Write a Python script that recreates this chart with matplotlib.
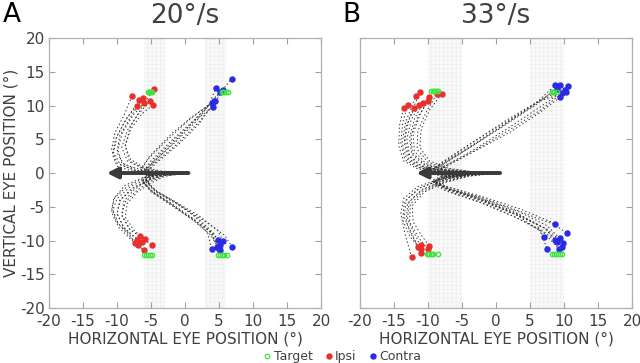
import matplotlib
matplotlib.use("Agg")
import matplotlib.pyplot as plt
from matplotlib.lines import Line2D

# ---------------- data ----------------
TITLES = ["20°/s", "33°/s"]
PANEL_LABELS = ["A", "B"]
TICKS = [-20, -15, -10, -5, 0, 5, 10, 15, 20]
BANDS_A = [(-6, -3), (3, 6)]
BANDS_B = [(-10, -5), (5, 10)]
ARROW_A = [(0.5, 0.0), (-11.5, 0.0)]
ARROW_B = [(0.6, 0.0), (-11.7, 0.0)]

# Panel A trajectories (eye position waypoints; last point = saccade end)
A_IPSI_UP = [
    [(0.3, 0.2), (-4, 0.1), (-7.5, 0.4), (-10, 1.5), (-10.8, 3.5), (-10.3, 6), (-9, 8.5), (-7.8, 11.4)],
    [(0.4, -0.1), (-4, 0), (-7, 0.3), (-9.5, 1.2), (-10.5, 3), (-10, 5.5), (-8.5, 8.2), (-6.7, 10.8)],
    [(0.2, 0.1), (-4, 0.2), (-6.5, 0.5), (-9, 1.3), (-10, 3), (-9.6, 5.5), (-8, 8.3), (-6.2, 11.1)],
    [(0.5, 0), (-4.5, 0), (-7.5, 0.2), (-10, 1), (-10.7, 2.8), (-10.2, 5), (-8.8, 7.8), (-7.1, 9.9)],
    [(0.3, -0.2), (-4, 0.1), (-7, 0.4), (-9.3, 1.5), (-9.9, 3.5), (-9.2, 6), (-7.6, 8.6), (-6.1, 10.3)],
    [(0.1, 0.1), (-3.5, 0.2), (-6, 0.6), (-8.5, 1.8), (-9.3, 3.8), (-8.5, 6.3), (-6.8, 8.8), (-5.2, 10.6)],
    [(0.4, 0.1), (-3.5, 0.3), (-6, 0.8), (-8, 2), (-8.8, 4), (-8, 6.5), (-6.3, 8.8), (-4.7, 10.1)],
    [(0.2, 0), (-3.5, 0.2), (-6, 0.6), (-8.2, 1.8), (-8.8, 4), (-8, 7), (-6.3, 9.8), (-4.6, 12.4)],
]
A_CONTRA_UP = [
    [(0.3, 0), (-3, -0.1), (-5.5, -0.4), (-6.3, 0), (-5, 1.8), (-2, 4.8), (1.5, 8), (4, 10.5), (5.5, 12.3), (6.9, 14.0)],
    [(0.4, 0.1), (-3, 0), (-5.2, -0.2), (-5.8, 0.4), (-4.5, 1.8), (-1.5, 4.5), (1.5, 7.5), (3.5, 10), (4.5, 12.6)],
    [(0.2, -0.1), (-3, -0.2), (-5, -0.5), (-5.8, -0.1), (-4.8, 1.2), (-1.5, 4), (2, 7.5), (4.2, 10.2), (5.6, 12.3)],
    [(0.5, 0), (-3.5, -0.1), (-5.8, -0.3), (-6.5, 0.3), (-5.5, 2), (-2.5, 5), (0.5, 7.8), (4.2, 10.7)],
    [(0.3, 0.1), (-3.5, 0), (-6, -0.2), (-6.5, 0.6), (-5.2, 2.5), (-2, 5.8), (1, 8.3), (3.9, 10.3)],
    [(0.1, 0), (-3, -0.2), (-5, -0.4), (-5.5, 0.2), (-4.2, 1.5), (-1, 4.2), (2, 7.2), (4.4, 10.6)],
    [(0.3, -0.1), (-3.2, -0.1), (-5.3, -0.3), (-6, 0.3), (-4.5, 2), (-1.5, 5), (1.5, 7.8), (4.1, 9.8)],
    [(0.2, 0.1), (-3, 0), (-5.2, -0.2), (-5.7, 0.5), (-4, 2.2), (-1, 5.2), (2.5, 9), (5.1, 12.0)],
]
A_IPSI_DOWN = [
    [(0.3, 0), (-3, -0.2), (-5.5, -0.8), (-8, -2), (-10, -3.8), (-10.6, -5.5), (-9.8, -7.5), (-8.2, -9), (-7.4, -10.4)],
    [(0.4, -0.1), (-3, -0.3), (-5.2, -1), (-7.5, -2.2), (-9.5, -4), (-10, -6), (-9, -8), (-7.1, -9.9)],
    [(0.2, 0.1), (-3.5, -0.2), (-6, -0.7), (-8.5, -2), (-10.3, -3.6), (-10.8, -5.2), (-10, -7.3), (-8.3, -9.2), (-6.9, -10.7)],
    [(0.5, 0), (-3, -0.4), (-5, -1.2), (-7, -2.5), (-8.8, -4.3), (-9.3, -6.3), (-8.2, -8.3), (-6.6, -9.4)],
    [(0.3, -0.2), (-3.2, -0.3), (-5.5, -1), (-7.8, -2.3), (-9.6, -4), (-10, -6), (-9, -8.2), (-6.4, -10.2)],
    [(0.1, 0), (-3, -0.5), (-5, -1.5), (-7, -2.8), (-8.5, -4.5), (-8.8, -6.5), (-7.5, -8.5), (-5.9, -9.8)],
    [(0.3, 0.1), (-3.5, -0.1), (-6, -0.6), (-8.8, -1.8), (-10.5, -3.8), (-10.8, -5.8), (-9.8, -8), (-8, -9.8), (-6.1, -11.4)],
    [(0.2, 0), (-3, -0.3), (-5.5, -1.1), (-7.5, -2.5), (-9, -4.2), (-9.3, -6.2), (-8, -8.5), (-6, -9.8), (-4.9, -10.7)],
]
A_CONTRA_DOWN = [
    [(0.3, 0), (-3, -0.1), (-5.5, -0.4), (-6.3, -1.1), (-5, -2.6), (-2, -4.5), (1, -6.6), (3.3, -8.8), (3.9, -11.2)],
    [(0.4, 0.1), (-3, 0), (-5.2, -0.3), (-5.8, -1), (-4.5, -2.5), (-1.5, -4.3), (1.5, -6.5), (3.8, -8.8), (4.7, -10.9)],
    [(0.2, -0.1), (-3.2, -0.2), (-5.5, -0.6), (-6, -1.5), (-4.5, -3), (-1.5, -5), (1.5, -7), (4, -9), (5.0, -11.2)],
    [(0.5, 0), (-3.5, -0.1), (-5.8, -0.4), (-6.4, -1.2), (-5, -2.8), (-2, -4.8), (1, -6.8), (3.8, -8.7), (4.9, -9.9)],
    [(0.3, 0.1), (-3, -0.1), (-5, -0.5), (-5.6, -1.3), (-4, -2.8), (-1, -4.6), (2, -6.8), (4.3, -9), (5.1, -10.7)],
    [(0.1, 0), (-3, -0.2), (-5.3, -0.5), (-5.9, -1.2), (-4.5, -2.6), (-1.5, -4.2), (2, -6.3), (4.8, -8.5), (5.6, -10.0)],
    [(0.3, -0.1), (-2.8, -0.2), (-5, -0.6), (-5.5, -1.5), (-4, -3), (-0.5, -5), (3, -7.2), (5.8, -9.2), (6.9, -10.9)],
    [(0.2, 0), (-3.2, -0.1), (-5.6, -0.5), (-6.2, -1.3), (-4.8, -2.8), (-1.8, -4.8), (1.2, -7), (3.8, -9.2), (5.1, -11.4)],
]
A_TARGETS_X = [[-5.4, -5.25, -5.1, -5.0, -4.9], [5.4, 5.6, 5.8, 6.0, 6.3],
               [-6.1, -5.8, -5.5, -5.2, -4.9], [4.9, 5.2, 5.5, 5.8, 6.1]]
A_TARGETS_Y = [12.0, 12.0, -12.1, -12.1]

# Panel B trajectories
B_IPSI_UP = [
    [(0.5, 0), (-4, 0), (-8, 0.2), (-11.5, 0.6), (-13.6, 1.8), (-14.3, 4), (-14.2, 7), (-13.6, 9.6)],
    [(0.3, 0.1), (-4, 0.1), (-8, 0.3), (-11.5, 0.8), (-13.4, 2), (-14, 4.5), (-13.7, 7.5), (-13, 10.1)],
    [(0.4, -0.1), (-4, 0), (-8, 0.2), (-11.3, 0.8), (-13.2, 2.2), (-13.8, 4.5), (-13.3, 7.5), (-11.8, 11.4)],
    [(0.2, 0), (-4, 0.2), (-8, 0.4), (-11, 1), (-12.8, 2.5), (-13.4, 5), (-12.8, 8), (-11.2, 12.0)],
    [(0.5, 0.1), (-4, 0.1), (-8, 0.3), (-11.2, 0.9), (-13, 2.3), (-13.5, 4.5), (-13.2, 7), (-12, 9.6)],
    [(0.3, 0), (-4, 0.1), (-8, 0.4), (-11, 1.1), (-12.7, 2.6), (-13.1, 5), (-12.5, 7.8), (-11.3, 10.1)],
    [(0.4, 0.1), (-4, 0.2), (-7.5, 0.5), (-10.5, 1.3), (-12.3, 3), (-12.5, 5.5), (-11.5, 8.3), (-10, 10.6)],
    [(0.2, -0.1), (-4, 0.1), (-7.5, 0.5), (-10.3, 1.4), (-12, 3.2), (-12.2, 5.8), (-11.2, 8.6), (-9.8, 11.2)],
    [(0.3, 0), (-3.5, 0.2), (-7, 0.6), (-10, 1.6), (-11.6, 3.5), (-11.5, 6.2), (-10.3, 9), (-8.7, 11.7)],
    [(0.5, 0.1), (-3.5, 0.2), (-7, 0.7), (-9.8, 1.8), (-11.2, 3.8), (-11, 6.5), (-9.8, 9.3), (-8, 11.7)],
    [(0.4, 0), (-4, 0.1), (-7.5, 0.4), (-10.6, 1.2), (-12.4, 2.8), (-12.7, 5.2), (-12, 8), (-10.8, 10.3)],
]
B_CONTRA_UP = [
    [(0.5, 0), (-4, -0.1), (-8, -0.3), (-9.8, 0), (-8.5, 1), (-4, 3.8), (1, 7), (5.5, 10), (8.7, 13.0)],
    [(0.3, 0.1), (-4, 0), (-8, -0.2), (-9.5, 0.2), (-8, 1.2), (-3.5, 4), (1.5, 7.2), (6, 10.2), (9.4, 13.0)],
    [(0.4, 0), (-4, -0.2), (-7.5, -0.4), (-9.2, -0.1), (-7.8, 0.9), (-3, 3.6), (2, 6.8), (6.5, 9.8), (10.1, 12.3)],
    [(0.2, -0.1), (-4, -0.1), (-8, -0.2), (-9.7, 0.3), (-8.2, 1.4), (-3.8, 4.3), (1.2, 7.4), (6, 10.4), (10.6, 12.9)],
    [(0.5, 0.1), (-4, -0.1), (-7.5, -0.3), (-9, 0), (-7.5, 1), (-3, 3.4), (2, 6.4), (6.5, 9.3), (9.7, 11.8)],
    [(0.3, 0), (-4, -0.2), (-7.5, -0.5), (-9.3, -0.2), (-7.8, 0.7), (-3.2, 3.2), (2, 6), (6.5, 9), (9.4, 11.2)],
    [(0.4, -0.1), (-4, 0), (-8, -0.1), (-9.6, 0.4), (-8, 1.5), (-3.5, 4.5), (1.5, 7.8), (6, 10.5), (10.3, 12.0)],
    [(0.2, 0), (-4, -0.1), (-8, -0.3), (-9.4, 0.1), (-8, 1.1), (-3.5, 4), (1.5, 7.4), (5.8, 10.3), (8.9, 12.4)],
]
B_IPSI_DOWN = [
    [(0.5, 0), (-4, -0.2), (-8, -0.8), (-11.5, -2), (-13.6, -3.8), (-14, -6), (-13.4, -9), (-12.4, -12.5)],
    [(0.3, -0.1), (-4, -0.3), (-8, -1), (-11.2, -2.2), (-13.2, -4), (-13.5, -6.5), (-12.5, -9), (-11.4, -11)],
    [(0.4, 0), (-4, -0.4), (-7.5, -1.2), (-10.8, -2.5), (-12.8, -4.3), (-13, -6.8), (-12, -9), (-11.1, -10.7)],
    [(0.2, 0.1), (-4, -0.2), (-8, -0.9), (-11.4, -2.3), (-13.5, -4.3), (-13.7, -7), (-12.6, -9.5), (-11.1, -11.3)],
    [(0.5, -0.1), (-4, -0.3), (-7.8, -1.1), (-11, -2.5), (-13, -4.5), (-13.2, -7.2), (-12, -9.8), (-11, -11.9)],
    [(0.3, 0), (-4, -0.5), (-7.5, -1.4), (-10.5, -2.8), (-12.3, -4.8), (-12.2, -7.2), (-11, -9.2), (-9.8, -10.8)],
    [(0.4, 0.1), (-4, -0.4), (-7.5, -1.3), (-10.7, -2.7), (-12.6, -4.6), (-12.7, -7.3), (-11.3, -9.7), (-10, -11.3)],
]
B_CONTRA_DOWN = [
    [(0.5, 0), (-4, -0.2), (-8, -0.6), (-9.3, -1.3), (-7.5, -2.2), (-2.5, -3.7), (2.5, -5.6), (6, -7.6), (7, -9.5)],
    [(0.3, 0.1), (-4, -0.1), (-7.8, -0.5), (-9, -1.2), (-7, -2.3), (-2, -4), (3, -6.2), (6.5, -8.6), (7.5, -11.2)],
    [(0.4, 0), (-4, -0.3), (-7.5, -0.8), (-8.8, -1.6), (-6.5, -2.6), (-1.5, -4.2), (3.5, -6.2), (7.2, -8.2), (8.7, -9.9)],
    [(0.2, -0.1), (-4, -0.2), (-8, -0.7), (-9.5, -1.5), (-7.5, -2.6), (-2.5, -4.3), (2.5, -6.4), (6.8, -8.5), (8.9, -10.2)],
    [(0.5, 0.1), (-4, -0.2), (-7.8, -0.7), (-9.2, -1.4), (-7, -2.3), (-2, -3.8), (3.5, -5.8), (7.5, -7.8), (9.4, -9.7)],
    [(0.3, 0), (-4, -0.3), (-7.5, -0.9), (-8.6, -1.8), (-6.5, -2.9), (-1.5, -4.6), (3, -6.6), (7, -8.8), (9.2, -11.2)],
    [(0.4, -0.1), (-4, -0.2), (-7.8, -0.6), (-9, -1.3), (-7, -2.4), (-2, -4.1), (3, -6.1), (7.2, -8.2), (9.7, -11)],
    [(0.2, 0), (-4, -0.1), (-8, -0.5), (-9.4, -1.1), (-7.3, -2), (-2, -3.5), (3.5, -5.3), (8, -7.2), (10.4, -8.9)],
    [(0.5, 0), (-4, -0.2), (-7.6, -0.7), (-9, -1.5), (-6.8, -2.6), (-1.8, -4.3), (3.2, -6.3), (7.5, -8.3), (9.9, -10.4)],
    [(0.3, 0.1), (-4, -0.1), (-7.7, -0.5), (-9.1, -1.2), (-7, -2.1), (-2.2, -3.6), (2.8, -5.4), (6.8, -7), (8.7, -7.6)],
]
B_TARGETS_X = [[-9.5, -9.3, -9.1, -8.9, -8.7, -8.5], [8.2, 8.4, 8.6, 8.9],
               [-10.2, -10.0, -9.8, -9.6, -9.4, -9.2, -8.6], [8.2, 8.5, 8.8, 9.1, 9.4, 9.7]]
B_TARGETS_Y = [12.1, 12.0, -11.95, -11.95]

# ---------------- style ----------------
TXT = "#404040"
RED = "#e8302c"
BLUE = "#2b2be6"
GREEN = "#3ee43e"
plt.rcParams["font.family"] = ["DejaVu Sans"]
plt.rcParams["axes.unicode_minus"] = False
plt.rcParams["hatch.linewidth"] = 0.5

fig = plt.figure(figsize=(6.4, 3.63), dpi=100)
axA = fig.add_axes([0.0766, 0.1515, 0.425, 0.7438])
axB = fig.add_axes([0.5625, 0.1515, 0.425, 0.7438])

panels = [
    (axA, A_IPSI_UP + A_IPSI_DOWN, A_CONTRA_UP + A_CONTRA_DOWN, A_TARGETS_X, A_TARGETS_Y, BANDS_A, ARROW_A),
    (axB, B_IPSI_UP + B_IPSI_DOWN, B_CONTRA_UP + B_CONTRA_DOWN, B_TARGETS_X, B_TARGETS_Y, BANDS_B, ARROW_B),
]

for i, (ax, ipsi, contra, tx, ty, bands, arrow) in enumerate(panels):
    for lo, hi in bands:
        ax.axvspan(lo, hi, facecolor="#fafafa", edgecolor="#eeeeee", hatch="++++", lw=0, zorder=0)
    for traj in ipsi + contra:
        xs = [p[0] for p in traj]
        ys = [p[1] for p in traj]
        ax.plot(xs, ys, color="#333333", lw=0.75, linestyle=(0, (0.6, 3.0)),
                dash_capstyle="round", zorder=2)
    for traj in ipsi:
        ax.plot(traj[-1][0], traj[-1][1], "o", color=RED, ms=3.6, mec=RED, zorder=4)
    for traj in contra:
        ax.plot(traj[-1][0], traj[-1][1], "o", color=BLUE, ms=3.6, mec=BLUE, zorder=4)
    for xs, yv in zip(tx, ty):
        ax.plot(xs, [yv] * len(xs), "o", mfc="none", mec=GREEN, ms=3.2, mew=0.9, zorder=5)
    ax.annotate("", xy=arrow[1], xytext=arrow[0],
                arrowprops=dict(arrowstyle="-|>", color="#3a3a3a", lw=2.8,
                                mutation_scale=16, shrinkA=0, shrinkB=0), zorder=6)

    ax.set_xlim(-20, 20)
    ax.set_ylim(-20, 20)
    ax.set_xticks(TICKS)
    ax.set_yticks(TICKS)
    ax.tick_params(direction="in", top=True, right=True, length=4, width=0.8,
                   color="#a0a0a0", labelcolor=TXT, labelsize=11)
    ax.tick_params(axis="x", pad=4)
    ax.tick_params(axis="y", pad=3)
    for s in ax.spines.values():
        s.set_color("#b0b0b0")
        s.set_linewidth(0.9)
    ax.set_xlabel("HORIZONTAL EYE POSITION (°)", color=TXT, fontsize=11, labelpad=2)
    ax.set_title(TITLES[i], color=TXT, fontsize=19, pad=11)
    if i == 1:
        ax.set_yticklabels([])

axA.set_ylabel("VERTICAL EYE POSITION (°)", color=TXT, fontsize=11, labelpad=1)

fig.text(0.004, 0.995, PANEL_LABELS[0], fontsize=19, color="black", va="top", ha="left")
fig.text(0.535, 0.995, PANEL_LABELS[1], fontsize=19, color="black", va="top", ha="left")

handles = [
    Line2D([], [], ls="none", marker="o", mfc="none", mec=GREEN, ms=3.2, mew=0.9),
    Line2D([], [], ls="none", marker="o", color=RED, ms=3.6),
    Line2D([], [], ls="none", marker="o", color=BLUE, ms=3.6),
]
fig.legend(handles, ["Target", "Ipsi", "Contra"], loc="center", bbox_to_anchor=(0.535, 0.018),
           ncol=3, frameon=False, fontsize=9, handlelength=0.6, handletextpad=0.2,
           columnspacing=1.0, labelcolor=TXT, borderpad=0)

fig.savefig("out.png", dpi=100)
